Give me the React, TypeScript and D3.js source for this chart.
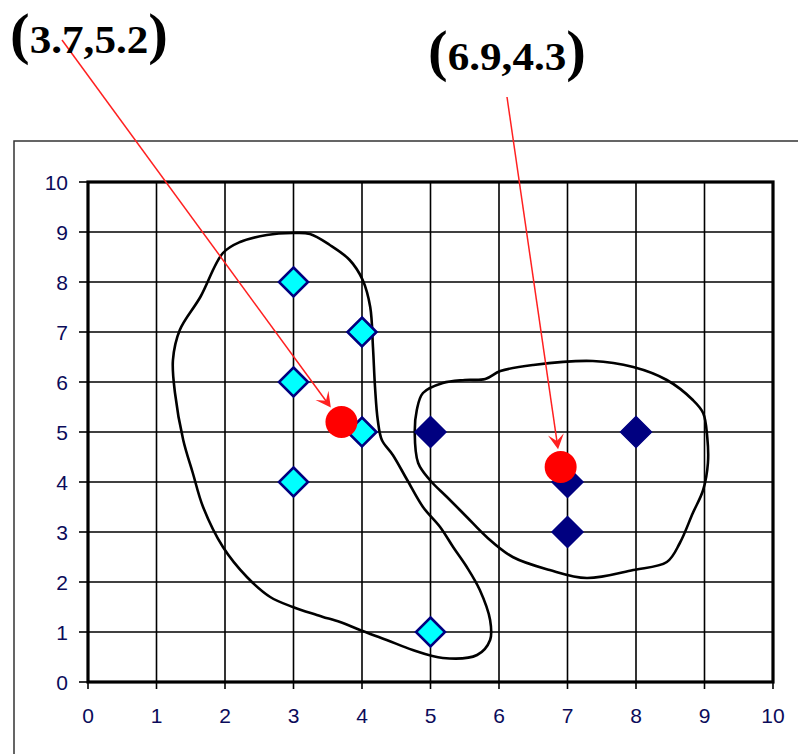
import React from "react";
import * as d3 from "d3";

// Axis ticks
const xTicks = [0, 1, 2, 3, 4, 5, 6, 7, 8, 9, 10];
const yTicks = [0, 1, 2, 3, 4, 5, 6, 7, 8, 9, 10];

// Points of the two clusters
const clusterA = [
  { x: 3, y: 8 },
  { x: 4, y: 7 },
  { x: 3, y: 6 },
  { x: 4, y: 5 },
  { x: 3, y: 4 },
  { x: 5, y: 1 },
];
const clusterB = [
  { x: 5, y: 5 },
  { x: 7, y: 4 },
  { x: 7, y: 3 },
  { x: 8, y: 5 },
];

// Cluster centres and their captions
const centroids = [
  { x: 3.7, y: 5.2, label: "3.7,5.2" },
  { x: 6.9, y: 4.3, label: "6.9,4.3" },
];

// Freehand outlines around each cluster, in data units
const outlineA: [number, number][] = [
  [1.97, 8.58], [2.22, 8.8], [2.61, 8.94], [2.99, 8.98], [3.24, 8.96],
  [3.53, 8.74], [3.82, 8.44], [4.01, 8.04], [4.12, 7.5], [4.16, 6.7],
  [4.19, 5.9], [4.23, 5.24], [4.29, 4.84], [4.45, 4.54], [4.66, 4.04],
  [4.89, 3.5], [5.14, 3.1], [5.33, 2.7], [5.53, 2.3], [5.72, 1.84],
  [5.87, 1.24], [5.87, 0.84], [5.68, 0.54], [5.18, 0.48], [4.74, 0.64],
  [4.36, 0.84], [3.97, 1.04], [3.68, 1.2], [3.43, 1.3], [3.34, 1.34],
  [2.99, 1.5], [2.66, 1.7], [2.32, 2.1], [1.97, 2.7], [1.68, 3.5],
  [1.53, 4.18], [1.39, 4.84], [1.27, 5.78], [1.24, 6.44], [1.34, 7.04],
  [1.64, 7.7],
];
const outlineB: [number, number][] = [
  [5.8, 6.06], [6.02, 6.22], [6.5, 6.34], [7.37, 6.42], [7.96, 6.3],
  [8.45, 6.04], [8.83, 5.64], [8.98, 5.38], [9.04, 4.9], [9.05, 4.38],
  [8.98, 3.84], [8.83, 3.38], [8.64, 2.78], [8.45, 2.4], [7.96, 2.24],
  [7.28, 2.08], [6.74, 2.24], [6.2, 2.5], [5.82, 2.9], [5.53, 3.3],
  [5.24, 3.7], [4.99, 4.04], [4.82, 4.38], [4.77, 4.98], [4.8, 5.44],
  [4.89, 5.78], [5.18, 5.98], [5.5, 6.04],
];

const W = 798;
const H = 754;

export default function App() {
  const x = d3.scaleLinear().domain([0, 10]).range([88, 773]);
  const y = d3.scaleLinear().domain([0, 10]).range([682, 182]);

  const blob = d3
    .line<[number, number]>()
    .x((d) => x(d[0]))
    .y((d) => y(d[1]))
    .curve(d3.curveCatmullRomClosed.alpha(0.5));

  const diamond = (cx: number, cy: number, r: number) =>
    `M${cx},${cy - r}L${cx + r},${cy}L${cx},${cy + r}L${cx - r},${cy}Z`;

  // caption anchors and where each leader line starts
  const captions = [
    { tx: 10, ty: 53, w: 158, sx: 62, sy: 40 },
    { tx: 428, ty: 70, w: 158, sx: 507, sy: 97 },
  ];

  const dotR = 16;

  return (
    <svg
      width={W}
      height={H}
      style={{ position: "absolute", left: 0, top: 0, display: "block", background: "#fff" }}
    >
      {/* chart frame */}
      <rect x={14} y={141} width={W} height={H} fill="#fff" stroke="#333" strokeWidth={1.5} />

      {/* grid */}
      <g stroke="#000" strokeWidth={1.6}>
        {xTicks.slice(1, -1).map((t) => (
          <line key={"gx" + t} x1={x(t)} x2={x(t)} y1={y(0)} y2={y(10)} />
        ))}
        {yTicks.slice(1, -1).map((t) => (
          <line key={"gy" + t} x1={x(0)} x2={x(10)} y1={y(t)} y2={y(t)} />
        ))}
      </g>

      {/* ticks */}
      <g stroke="#000" strokeWidth={1.6}>
        {yTicks.map((t) => (
          <line key={"ty" + t} x1={x(0) - 9} x2={x(0)} y1={y(t)} y2={y(t)} />
        ))}
        {xTicks.map((t) => (
          <line key={"tx" + t} x1={x(t)} x2={x(t)} y1={y(0)} y2={y(0) + 7} />
        ))}
      </g>

      <rect
        x={x(0)}
        y={y(10)}
        width={x(10) - x(0)}
        height={y(0) - y(10)}
        fill="none"
        stroke="#000"
        strokeWidth={3.2}
      />

      {/* tick labels */}
      <g fontFamily="Liberation Sans, Arial, sans-serif" fontSize={21} fill="#0b0b5a">
        {yTicks.map((t) => (
          <text key={"ly" + t} x={68} y={y(t) + 7.5} textAnchor="end">
            {t}
          </text>
        ))}
        {xTicks.map((t) => (
          <text key={"lx" + t} x={x(t)} y={723} textAnchor="middle">
            {t}
          </text>
        ))}
      </g>

      {/* cluster outlines */}
      <g fill="none" stroke="#000" strokeWidth={2.6} strokeLinejoin="round">
        <path d={blob(outlineA) || ""} />
        <path d={blob(outlineB) || ""} />
      </g>

      {/* points */}
      {clusterA.map((d, i) => (
        <path
          key={"a" + i}
          d={diamond(x(d.x), y(d.y), 14.5)}
          fill="#00ffff"
          stroke="#000080"
          strokeWidth={2.6}
        />
      ))}
      {clusterB.map((d, i) => (
        <path
          key={"b" + i}
          d={diamond(x(d.x), y(d.y), 15.5)}
          fill="#000080"
          stroke="#000080"
          strokeWidth={1.5}
        />
      ))}

      {/* centres */}
      {centroids.map((c, i) => (
        <circle key={"c" + i} cx={x(c.x)} cy={y(c.y)} r={dotR} fill="#ff0000" />
      ))}

      {/* leader arrows */}
      {centroids.map((c, i) => {
        const cap = captions[i];
        const cx = x(c.x);
        const cy = y(c.y);
        const dx = cx - cap.sx;
        const dy = cy - cap.sy;
        const len = Math.hypot(dx, dy);
        const ux = dx / len;
        const uy = dy / len;
        const px = -uy;
        const py = ux;
        const tipX = cx - ux * (dotR + 2);
        const tipY = cy - uy * (dotR + 2);
        const L = 15;
        const Wd = 8;
        const head = `M${tipX},${tipY}L${tipX - ux * L + px * Wd},${tipY - uy * L + py * Wd}L${
          tipX - ux * L * 0.55
        },${tipY - uy * L * 0.55}L${tipX - ux * L - px * Wd},${tipY - uy * L - py * Wd}Z`;
        return (
          <g key={"ar" + i}>
            <line
              x1={cap.sx}
              y1={cap.sy}
              x2={tipX - ux * 4}
              y2={tipY - uy * 4}
              stroke="#ff2020"
              strokeWidth={1.5}
            />
            <path d={head} fill="#ff2020" />
          </g>
        );
      })}

      {/* captions */}
      {centroids.map((c, i) => {
        const cap = captions[i];
        return (
          <text
            key={"cap" + i}
            x={cap.tx}
            y={cap.ty}
            fontFamily="Liberation Serif, Times New Roman, serif"
            fontWeight="bold"
            fontSize={41}
            fill="#000"
            textLength={cap.w}
            lengthAdjust="spacingAndGlyphs"
          >
            <tspan fontSize={56}>(</tspan>
            <tspan>{c.label}</tspan>
            <tspan fontSize={56}>)</tspan>
          </text>
        );
      })}
    </svg>
  );
}
